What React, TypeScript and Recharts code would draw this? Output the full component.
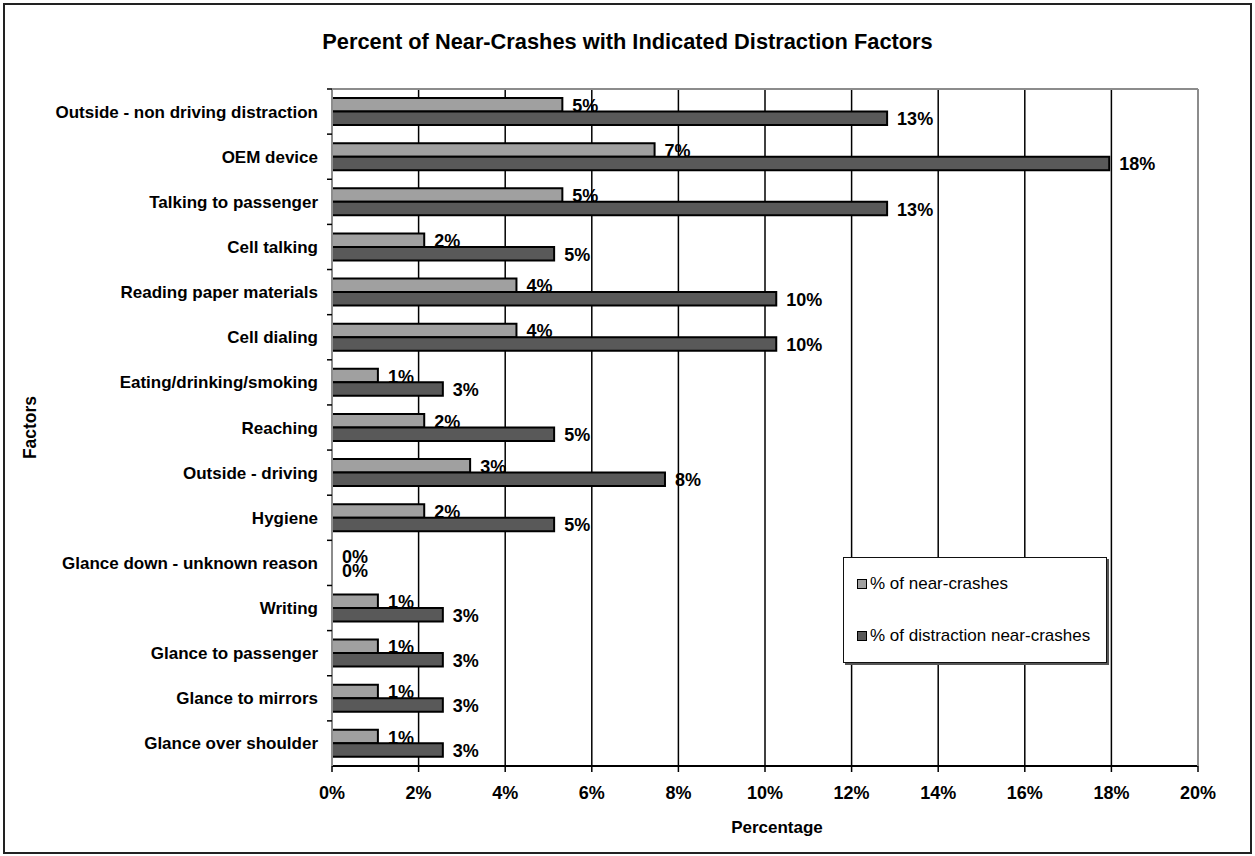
import { Bar, BarChart, CartesianGrid, Cell, LabelList, Legend, XAxis, YAxis } from "recharts";

const factors = [
  "Outside - non driving distraction",
  "OEM device",
  "Talking to passenger",
  "Cell talking",
  "Reading paper materials",
  "Cell dialing",
  "Eating/drinking/smoking",
  "Reaching",
  "Outside - driving",
  "Hygiene",
  "Glance down - unknown reason",
  "Writing",
  "Glance to passenger",
  "Glance to mirrors",
  "Glance over shoulder",
];

// % of near-crashes
const nearCrashes = [5.32, 7.45, 5.32, 2.13, 4.26, 4.26, 1.06, 2.13, 3.19, 2.13, 0, 1.06, 1.06, 1.06, 1.06];
// % of distraction near-crashes
const distractionNearCrashes = [12.82, 17.95, 12.82, 5.13, 10.26, 10.26, 2.56, 5.13, 7.69, 5.13, 0, 2.56, 2.56, 2.56, 2.56];

const xTicks = [0, 2, 4, 6, 8, 10, 12, 14, 16, 18, 20];

const data = factors.map((factor, i) => ({
  factor,
  near: nearCrashes[i],
  distraction: distractionNearCrashes[i],
}));

const W = 1255;
const H = 856;
const PLOT_TOP = 89;
const PLOT_BOTTOM = 766;
const BAND = (PLOT_BOTTOM - PLOT_TOP) / factors.length;
const FONT = "'Liberation Sans', Arial, sans-serif";

// zero-valued bars still need a position so their "0%" label is drawn
const keepZero = (value: any) => (Number(value) === 0 ? 0.01 : 0);

function FactorTick({ x, y, payload }: any) {
  return (
    <g>
      <line x1={x - 5} x2={x} y1={y - BAND / 2} y2={y - BAND / 2} stroke="#000" strokeWidth={1.5} />
      <text x={x - 14} y={y} dy={6} textAnchor="end" fontSize={17} fontWeight="bold" fill="#000">
        {payload.value}
      </text>
    </g>
  );
}

function ValueLabel({ x, y, width, height, value }: any) {
  return (
    <text
      x={Number(x) + Number(width) + 10}
      y={Number(y) + Number(height) / 2 + 1}
      dominantBaseline="central"
      fontSize={18}
      fontWeight="bold"
      fill="#000"
    >
      {Math.round(Number(value))}%
    </text>
  );
}

function FactorsLabel({ viewBox }: any) {
  const cx = 30;
  const cy = viewBox.y + viewBox.height / 2;
  return (
    <text x={cx} y={cy} transform={`rotate(-90, ${cx}, ${cy})`} textAnchor="middle" dominantBaseline="central" fontSize={17.5} fontWeight="bold" fill="#000">
      Factors
    </text>
  );
}

function LegendBox({ payload }: any) {
  return (
    <div
      style={{
        width: 264,
        height: 106,
        boxSizing: "border-box",
        border: "1.5px solid #111",
        boxShadow: "2px 2px 0 #555",
        background: "#fff",
        position: "relative",
        fontFamily: FONT,
        fontSize: 17,
        lineHeight: "20px",
        color: "#000",
      }}
    >
      {(payload || []).map((entry: any, i: number) => (
        <div
          key={entry.value}
          style={{ position: "absolute", left: 13, top: 16 + i * 52, display: "flex", alignItems: "center", whiteSpace: "nowrap" }}
        >
          <span
            style={{
              display: "inline-block",
              width: 8,
              height: 8,
              background: entry.color,
              border: "1.5px solid #000",
              marginRight: 3,
            }}
          />
          {entry.value}
        </div>
      ))}
    </div>
  );
}

export default function App() {
  return (
    <div style={{ position: "absolute", left: 0, top: 0, width: W, height: H, background: "#fff", fontFamily: FONT }}>
      <div
        style={{
          position: "absolute",
          left: 3,
          top: 3,
          width: W - 6,
          height: H - 5,
          boxSizing: "border-box",
          border: "2px solid #222",
        }}
      />
      <div
        style={{
          position: "absolute",
          left: 0,
          top: 29,
          width: W,
          textAlign: "center",
          fontSize: 21.8,
          lineHeight: "26px",
          fontWeight: "bold",
          color: "#000",
        }}
      >
        Percent of Near-Crashes with Indicated Distraction Factors
      </div>
      <div style={{ position: "absolute", left: 0, top: 0 }}>
        <BarChart
          width={W}
          height={H}
          data={data}
          layout="vertical"
          margin={{ top: PLOT_TOP - 1, right: 56, bottom: H - PLOT_BOTTOM - 70, left: 0 }}
          barSize={13.5}
          barGap={0}
        >
          <CartesianGrid vertical horizontal={false} stroke="#000" strokeWidth={1.5} />
          <XAxis
            type="number"
            domain={[0, 20]}
            ticks={xTicks}
            interval={0}
            tickFormatter={(v) => `${v}%`}
            height={70}
            axisLine={{ stroke: "#000", strokeWidth: 2 }}
            tickLine={{ stroke: "#000", strokeWidth: 1.5 }}
            tickSize={6}
            tickMargin={14}
            tick={{ fontSize: 18, fontWeight: "bold", fill: "#000" }}
            label={{ value: "Percentage", position: "insideBottom", offset: 3, dx: 12, fontSize: 17, fontWeight: "bold", fill: "#000" }}
          />
          <XAxis
            xAxisId="top"
            orientation="top"
            type="number"
            domain={[0, 20]}
            height={1}
            tick={false}
            tickLine={false}
            axisLine={{ stroke: "#8c8c8c", strokeWidth: 2 }}
          />
          <YAxis
            type="category"
            dataKey="factor"
            width={332}
            interval={0}
            tickLine={false}
            tickSize={0}
            tickMargin={0}
            axisLine={{ stroke: "#8c8c8c", strokeWidth: 2 }}
            tick={<FactorTick />}
            label={<FactorsLabel />}
          />
          <YAxis
            yAxisId="right"
            orientation="right"
            type="category"
            dataKey="factor"
            width={1}
            tick={false}
            tickLine={false}
            axisLine={{ stroke: "#8c8c8c", strokeWidth: 2 }}
          />
          <Legend
            layout="vertical"
            align="center"
            verticalAlign="middle"
            itemSorter={(item: any) => (item.dataKey === "near" ? 0 : 1)}
            wrapperStyle={{ position: "absolute", left: 843, top: 557, width: 266, height: 108 }}
            content={<LegendBox />}
          />
          <Bar
            dataKey="near"
            name="% of near-crashes"
            fill="#a0a0a0"
            stroke="#000"
            strokeWidth={2}
            minPointSize={keepZero}
            isAnimationActive={false}
          >
            {nearCrashes.map((v, i) => (
              <Cell key={`near-${i}`} stroke={v === 0 ? "none" : "#000"} />
            ))}
            <LabelList dataKey="near" content={<ValueLabel />} />
          </Bar>
          <Bar
            dataKey="distraction"
            name="% of distraction near-crashes"
            fill="#595959"
            stroke="#000"
            strokeWidth={2}
            minPointSize={keepZero}
            isAnimationActive={false}
          >
            {distractionNearCrashes.map((v, i) => (
              <Cell key={`dist-${i}`} stroke={v === 0 ? "none" : "#000"} />
            ))}
            <LabelList dataKey="distraction" content={<ValueLabel />} />
          </Bar>
        </BarChart>
      </div>
    </div>
  );
}
